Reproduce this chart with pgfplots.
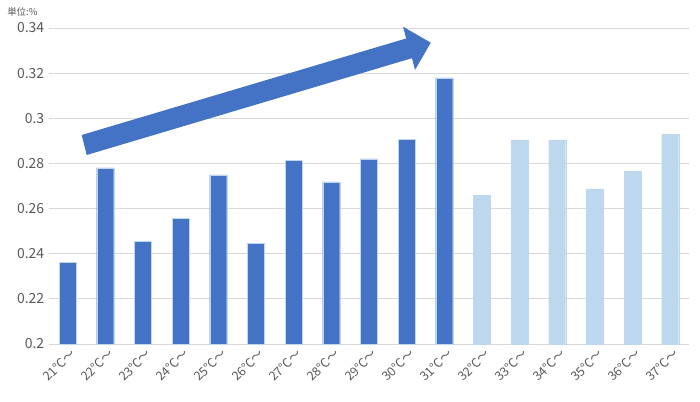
\documentclass[border=0pt]{standalone}
\usepackage{fontspec}
\setmainfont{Noto Sans CJK JP}
\newfontfamily\pfont[RawFeature=+palt]{Noto Sans CJK JP}
\usepackage{pgfplots}
\pgfplotsset{compat=1.18}
\definecolor{darkb}{HTML}{4472C4}
\definecolor{lightb}{HTML}{BDD7EE}
\definecolor{gridc}{HTML}{D9D9D9}
\definecolor{txt}{HTML}{595959}
\begin{document}
\begin{tikzpicture}
\begin{axis}[
  scale only axis,
  width=640.3bp, height=316bp,
  xmin=-0.5, xmax=16.5,
  ymin=0.2, ymax=0.34,
  ytick={0.2,0.22,0.24,0.26,0.28,0.3,0.32,0.34},
  yticklabels={0.2,0.22,0.24,0.26,0.28,0.3,0.32,0.34},
  xtick={0,...,16},
  xticklabels={21℃〜,22℃〜,23℃〜,24℃〜,25℃〜,26℃〜,27℃〜,28℃〜,29℃〜,30℃〜,31℃〜,32℃〜,33℃〜,34℃〜,35℃〜,36℃〜,37℃〜},
  x tick label style={rotate=45, anchor=north east, font=\pfont\fontsize{12.5}{14}\selectfont, text=txt, inner sep=1pt, xshift=0bp, yshift=-3bp},
  y tick label style={font=\fontsize{14}{15}\selectfont, text=txt, xshift=-1bp},
  major tick length=0pt,
  ymajorgrids, grid style={gridc, line width=0.8pt},
  axis x line*=bottom, axis y line*=left,
  x axis line style={gridc, line width=0.8pt, -},
  y axis line style={draw=none},
  clip=false,
  ybar, bar width=17bp, bar shift=0pt,
]
\addplot[fill=darkb, draw=lightb, line width=0.3pt] coordinates {
 (0,0.2363) (1,0.2780) (2,0.2456) (3,0.2558) (4,0.2749) (5,0.2447)
 (6,0.2815) (7,0.2718) (8,0.2820) (9,0.2908) (10,0.3179)};
\addplot[fill=lightb, draw=lightb, line width=0.3pt] coordinates {
 (11,0.2660) (12,0.2904) (13,0.2904) (14,0.2687) (15,0.2767) (16,0.2930)};
\fill[darkb] (axis cs:0.377,0.2926) -- (axis cs:8.99,0.33536) -- (axis cs:8.909,0.34059)
  -- (axis cs:9.644,0.33350) -- (axis cs:9.226,0.32140) -- (axis cs:9.145,0.32663)
  -- (axis cs:0.510,0.28374) -- cycle;
\node[anchor=west, text=txt, font=\pfont\fontsize{9.5}{11}\selectfont, inner sep=0pt] at (rel axis cs:-0.065,1.05) {単位:\%};
\end{axis}
\pgfresetboundingbox
\path (current axis.south west) ++(-48.7bp,-58bp) coordinate (bl);
\path (bl) rectangle ++(700bp,402bp);
\end{tikzpicture}
\end{document}
